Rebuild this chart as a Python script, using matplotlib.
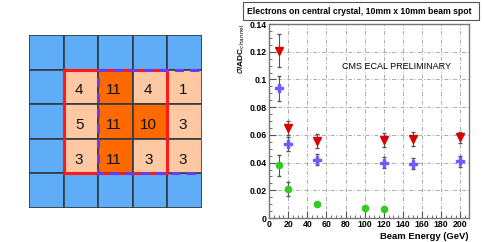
## Desc: ECAL crystal map + energy resolution vs beam energy
import numpy as np
import matplotlib
matplotlib.use("Agg")
import matplotlib.pyplot as plt
from matplotlib.patches import Rectangle
from matplotlib.ticker import MultipleLocator, FuncFormatter

plt.rcParams['font.family'] = ['Liberation Sans', 'DejaVu Sans']

####### Data #######
# crystal counts, inner 3x4 block (rows top->bottom)
counts = [[4, 11, 4, 1],
          [5, 11, 10, 3],
          [3, 11, 3, 3]]
hot_cells = [(0, 1), (1, 1), (1, 2), (2, 1)]

energy_red = [10, 20, 50, 120, 150, 200]
sigma_red = [0.1207, 0.0647, 0.0556, 0.0561, 0.0568, 0.0582]
err_red = [0.012, 0.005, 0.005, 0.005, 0.005, 0.004]

energy_blue = [10, 20, 50, 120, 150, 200]
sigma_blue = [0.0936, 0.0532, 0.0421, 0.0399, 0.0392, 0.0409]
err_blue = [0.009, 0.005, 0.004, 0.004, 0.004, 0.004]

energy_green = [10, 20, 50, 100, 120]
sigma_green = [0.038, 0.0211, 0.0103, 0.0072, 0.0067]
err_green = [0.0075, 0.005, 0.001, 0.001, 0.001]

W, H = 485, 242
fig = plt.figure(figsize=(W / 100, H / 100), dpi=100)

####### Left: crystal map #######
ax1 = fig.add_axes([29 / W, 1 - 208 / H, 173 / W, 173 / H])
ax1.set_xlim(0, 5)
ax1.set_ylim(5, 0)
ax1.axis('off')

blue = '#5fadf6'
light = '#fdc8a2'
dark = '#ff6a00'
for r in range(5):
    for c in range(5):
        ax1.add_patch(Rectangle((c, r), 1, 1, facecolor=blue,
                                edgecolor='#333a40', lw=1.2))
for i, row in enumerate(counts):
    for j, val in enumerate(row):
        col = dark if (i, j) in hot_cells else light
        ax1.add_patch(Rectangle((j + 1, i + 1), 1, 1, facecolor=col,
                                edgecolor='#333a40', lw=1.2))
        ax1.text(j + 1.45, i + 1.6, str(val), ha='center', va='center',
                 fontsize=11, color='#111111')
# 3x3 window (solid red) and shifted window (dashed purple)
ax1.add_patch(Rectangle((1, 1), 3, 3, fill=False, edgecolor='#ff1a1a', lw=2.2,
                        zorder=5))
ax1.add_patch(Rectangle((2, 1), 3, 3, fill=False, edgecolor='#6a3cf0', lw=2.2,
                        ls=(0, (3, 2)), zorder=6))

####### Right: resolution plot #######
ax2 = fig.add_axes([269 / W, 1 - 218 / H, 200 / W, 194 / H])
ax2.set_xlim(0, 209)
ax2.set_ylim(0, 0.14)

gls = (0, (4, 2, 1, 2))
for x in range(20, 201, 20):
    ax2.axvline(x, color='#aaaaaa', lw=0.7, ls=gls, zorder=0)
for y in np.arange(0.02, 0.13, 0.02):
    ax2.axhline(y, color='#aaaaaa', lw=0.7, ls=gls, zorder=0)

ax2.errorbar(energy_red, sigma_red, yerr=err_red, fmt='v', color='#dd0000',
             ms=5.5, ecolor='#555555', elinewidth=0.8, capsize=1.5)
ax2.errorbar(energy_blue, sigma_blue, yerr=err_blue, fmt='P', color='#6a5cff',
             ms=5.5, ecolor='#555555', elinewidth=0.8, capsize=1.5)
ax2.errorbar(energy_green, sigma_green, yerr=err_green, fmt='o', color='#33cc22',
             ms=4.5, ecolor='#555555', elinewidth=0.8, capsize=1.5)

ax2.xaxis.set_major_locator(MultipleLocator(20))
ax2.xaxis.set_minor_locator(MultipleLocator(5))
ax2.yaxis.set_major_locator(MultipleLocator(0.02))
ax2.yaxis.set_minor_locator(MultipleLocator(0.005))
ax2.yaxis.set_major_formatter(FuncFormatter(lambda v, p: ('%.2f' % v).rstrip('0').rstrip('.') if v else '0'))
ax2.tick_params(which='both', direction='in', labelsize=6.3, pad=1.5,
                color='#555555', top=False, right=False)
ax2.tick_params(which='major', length=5)
ax2.tick_params(which='minor', length=2.5)
for lab in ax2.get_xticklabels() + ax2.get_yticklabels():
    lab.set_fontweight('bold')
for s in ax2.spines.values():
    s.set_color('#777777')
    s.set_linewidth(1.0)

ax2.text(0.64, 0.78, 'CMS ECAL PRELIMINARY', transform=ax2.transAxes,
         ha='center', va='center', fontsize=6.5)
ax2.set_xlabel('Beam Energy (GeV)', fontsize=6.8, fontweight='bold', ha='right',
               labelpad=1)
ax2.xaxis.set_label_coords(1.0, -0.07)
ax2.set_ylabel(r'$\sigma$/ADC$_{\mathrm{channel}}$', fontsize=6, fontweight='bold',
               ha='right', labelpad=2)
ax2.yaxis.set_label_coords(-0.11, 1.0)

# title box
fig.patches.append(Rectangle((243 / W, 1 - 20 / H), 236 / W, 18 / H,
                             transform=fig.transFigure, facecolor='white',
                             edgecolor='#555555', lw=0.8))
fig.text(359 / W, 1 - 11 / H, 'Electrons on central crystal, 10mm x 10mm beam spot',
         ha='center', va='center', fontsize=6.2, fontweight='bold')

fig.savefig('out.png', dpi=100)
